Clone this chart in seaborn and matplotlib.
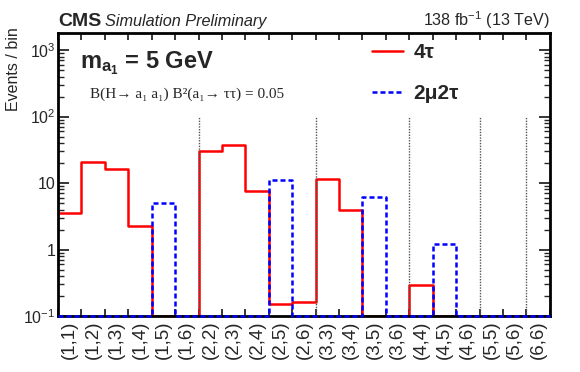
import matplotlib
matplotlib.use("Agg")
import matplotlib.pyplot as plt
import numpy as np
import pandas as pd
import seaborn as sns
from matplotlib.lines import Line2D
from matplotlib.ticker import LogLocator, NullFormatter

# bins of the (i,j) categories
bin_labels = ["(1,1)", "(1,2)", "(1,3)", "(1,4)", "(1,5)", "(1,6)",
              "(2,2)", "(2,3)", "(2,4)", "(2,5)", "(2,6)",
              "(3,3)", "(3,4)", "(3,5)", "(3,6)",
              "(4,4)", "(4,5)", "(4,6)",
              "(5,5)", "(5,6)", "(6,6)"]

# events per bin
events_4tau = [3.6, 21.0, 16.5, 2.24, 0, 0,
               30.4, 37.0, 7.5, 0.15, 0.16,
               11.4, 4.0, 0, 0,
               0.29, 0, 0,
               0, 0, 0]
events_2mu2tau = [0, 0, 0, 0, 5.06, 0,
                  0, 0, 0, 11.0, 0,
                  0, 0, 6.15, 0,
                  0, 1.2, 0,
                  0, 0, 0]

# group boundaries (after (1,6), (2,6), (3,6), (4,6), (5,6))
group_edges = [6, 11, 15, 18, 20]

ytick_vals = [0.1, 1, 10, 100, 1000]
ytick_text = [r"10$^{-1}$", "1", "10", r"10$^{2}$", r"10$^{3}$"]
y_min, y_max = 0.1, 1800

sns.set_theme(style="ticks")
plt.rcParams["font.family"] = ["Liberation Sans", "DejaVu Sans"]
plt.rcParams["mathtext.fontset"] = "custom"
plt.rcParams["mathtext.rm"] = "Liberation Sans"
plt.rcParams["mathtext.it"] = "Liberation Sans:italic"
plt.rcParams["mathtext.bf"] = "Liberation Sans:bold"

n = len(bin_labels)
edges = list(range(n + 1))
df = pd.DataFrame({
    "bin": np.arange(n) + 0.5,
    "4tau": events_4tau,
    "2mu2tau": events_2mu2tau,
})
# empty bins are drawn on the axis floor, like ROOT does
df["4tau_draw"] = df["4tau"].clip(lower=y_min)
df["2mu2tau_draw"] = df["2mu2tau"].clip(lower=y_min)

fig = plt.figure(figsize=(5.8, 3.72), dpi=100)
ax = fig.add_axes([0.1, 0.1505, 0.848, 0.7605])

dash = (0, (2, 1.2))
sns.histplot(data=df, x="bin", weights="4tau_draw", bins=edges, element="step",
             fill=False, color="red", linewidth=1.8, ax=ax)
sns.histplot(data=df, x="bin", weights="2mu2tau_draw", bins=edges, element="step",
             fill=False, color="blue", linewidth=1.8, linestyle=dash, zorder=3.1,
             clip_on=False, ax=ax)

ax.set_yscale("log")
ax.set_ylim(y_min, y_max)
ax.set_xlim(0, n)

# separators between groups
for e in group_edges:
    ax.plot([e, e], [y_min, 100], color="#555555", linestyle=(0, (1, 1)), linewidth=1)

# ticks
ax.set_xticks(edges)
ax.set_xticklabels([])
ax.set_xticks(np.arange(n) + 0.5, minor=True)
ax.set_xticklabels(bin_labels, minor=True, rotation=90, fontsize=13.5)
ax.tick_params(axis="x", which="minor", length=0, pad=3)
ax.tick_params(axis="x", which="major", direction="in", length=5, width=1.3,
               top=True, bottom=True)

ax.set_yticks(ytick_vals)
ax.set_yticklabels(ytick_text, fontsize=11.5)
ax.yaxis.set_minor_locator(LogLocator(base=10, subs=np.arange(2, 10)))
ax.yaxis.set_minor_formatter(NullFormatter())
ax.tick_params(axis="y", which="major", direction="in", length=8, width=1.3,
               left=True, right=True, pad=2)
ax.tick_params(axis="y", which="minor", direction="in", length=4, width=1,
               left=True, right=True)

for sp in ax.spines.values():
    sp.set_linewidth(2)
    sp.set_color("black")
    sp.set_visible(True)

ax.set_xlabel("")
ax.set_ylabel("Events / bin", fontsize=11.5, loc="top")
ax.yaxis.set_label_coords(-0.076, 1.02)

# header texts
fig.text(0.1, 0.93, "CMS", fontsize=14, fontweight="bold", ha="left", va="baseline")
fig.text(0.181, 0.93, "Simulation Preliminary", fontsize=11.7, style="italic",
         ha="left", va="baseline")
fig.text(0.948, 0.93, r"138 fb$^{-1}$ (13 TeV)", fontsize=11.6, ha="right", va="baseline")

ax.text(0.045, 0.876, r"$\mathbf{m_{a_{1}}}$ = 5 GeV", transform=ax.transAxes,
        fontsize=17, fontweight="bold", ha="left", va="baseline")
ax.text(0.065, 0.77, "B(H\u2192 a\u2081 a\u2081) B\u00b2(a\u2081\u2192 \u03c4\u03c4) = 0.05",
        transform=ax.transAxes, fontsize=11,
        family=["Liberation Serif", "DejaVu Serif"], ha="left", va="baseline")

handles = [Line2D([0], [0], color="red", linewidth=1.8),
           Line2D([0], [0], color="blue", linewidth=1.8, linestyle=dash)]
ax.legend(handles, ["4\u03c4", "2\u03bc2\u03c4"], loc="upper left",
          bbox_to_anchor=(0.6, 1.03), frameon=False, handlelength=1.5,
          handletextpad=0.5, labelspacing=1.05, prop={"size": 15, "weight": "bold"})

fig.savefig("out.png", dpi=100)
